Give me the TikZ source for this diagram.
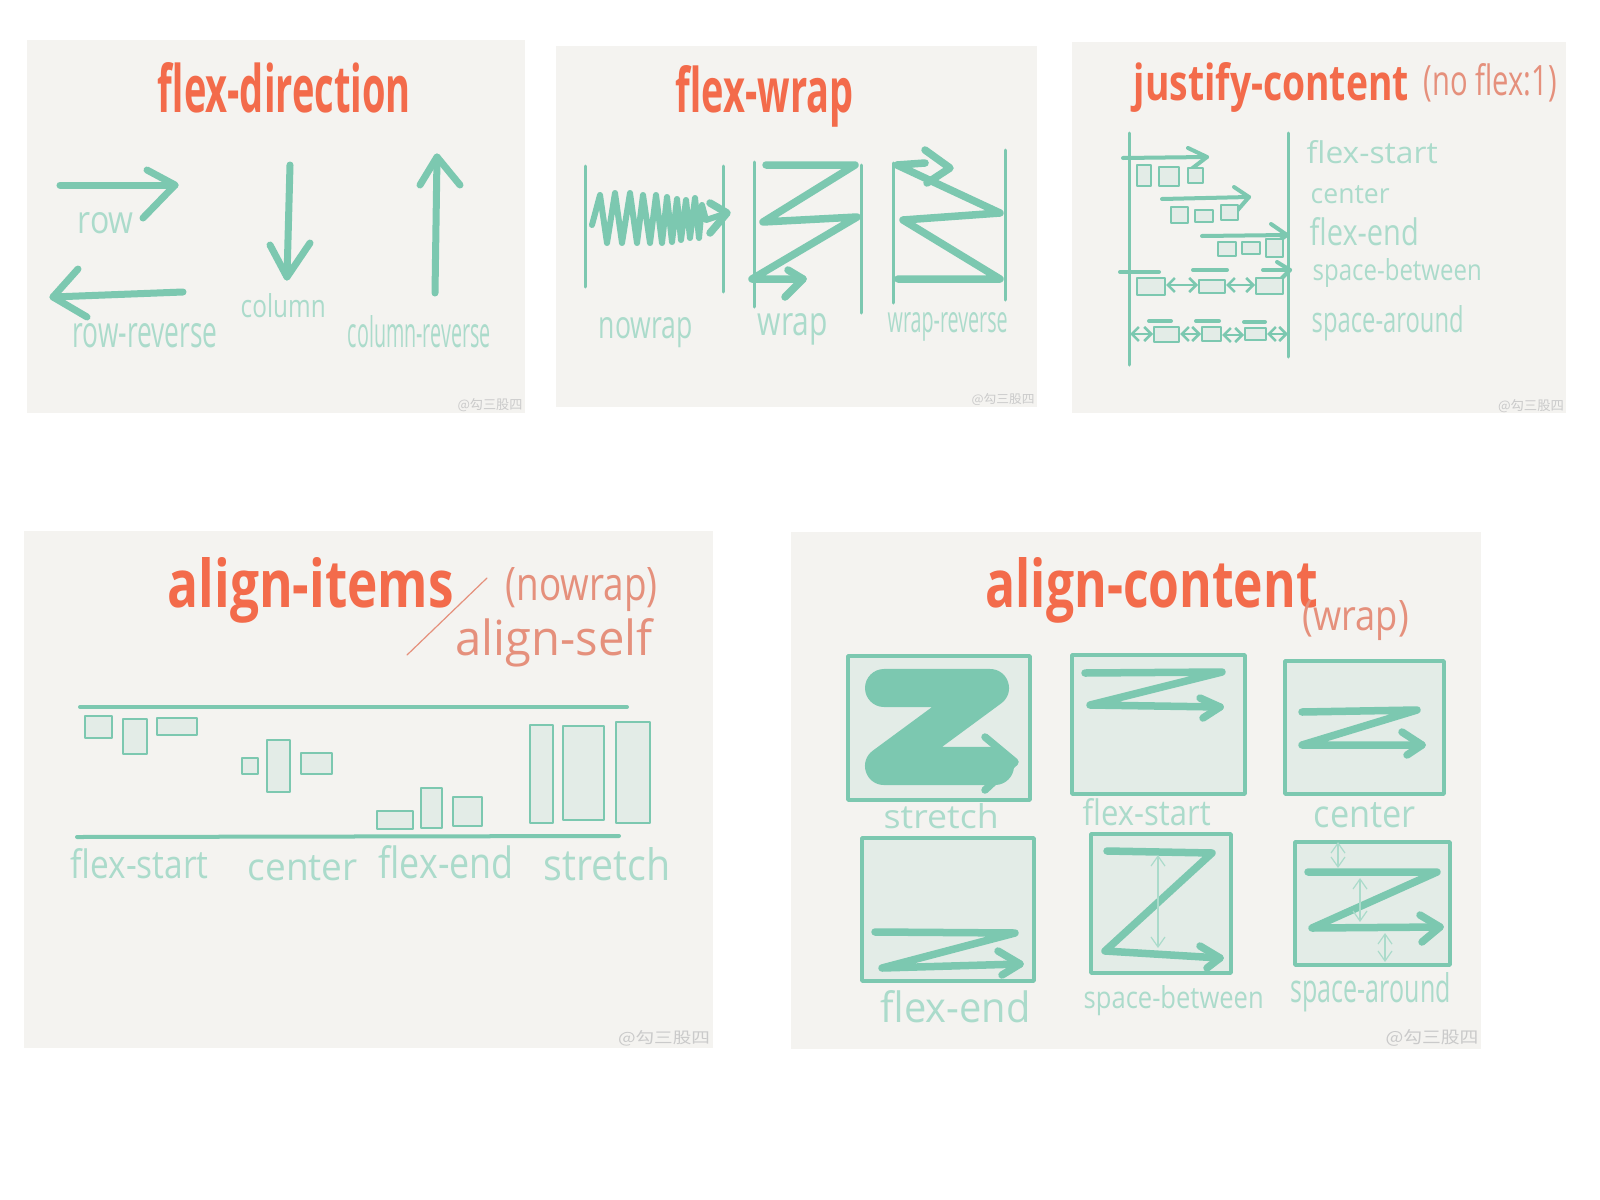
\documentclass[tikz,border=0pt]{standalone}
\usepackage{fontspec}
\setmainfont{Open Sans}
\newfontfamily\cjk{Noto Sans CJK SC}
\usepackage{graphicx}
\usetikzlibrary{arrows.meta}
\newlength\pxu \setlength\pxu{0.01cm}
\newcommand\hw[3]{\resizebox{#1\pxu}{#2\pxu}{#3}}
\definecolor{bgpanel}{HTML}{F4F3F0}
\definecolor{fgteal}{HTML}{7CC8B0}
\definecolor{txteal}{HTML}{ABDBCB}
\definecolor{fgorange}{HTML}{F36B4B}
\definecolor{ltorange}{HTML}{E5907C}
\definecolor{boxfill}{HTML}{E3ECE7}
\definecolor{wmark}{HTML}{CACACA}
\tikzset{
  pnl/.style={fill=bgpanel},
  thickarrow/.style={draw=fgteal, line width=0.07cm},
  zz/.style={draw=fgteal, line width=0.075cm},
  thinline/.style={draw=fgteal, line width=0.03cm},
  jarrow/.style={draw=fgteal, line width=0.04cm},
  itembox/.style={draw=fgteal, fill=boxfill, line width=0.028cm},
  acbox/.style={draw=fgteal, fill=boxfill, line width=0.035cm},
  dblarr/.style={draw=fgteal, line width=0.025cm, {Straight Barb[length=0.07cm,width=0.14cm]}-{Straight Barb[length=0.07cm,width=0.14cm]}},
  thindbl/.style={draw=txteal, line width=0.012cm, {Straight Barb[length=0.1cm,width=0.14cm]}-{Straight Barb[length=0.1cm,width=0.14cm]}},
  slash/.style={draw=ltorange, line width=0.012cm},
  ttl/.style={text=fgorange, inner sep=0, anchor=base west, font=\bfseries},
  subttl/.style={text=ltorange, inner sep=0, anchor=base west},
  lbl/.style={text=txteal, inner sep=0, anchor=base west},
  wmk/.style={text=wmark, inner sep=0, font=\cjk},
}
\begin{document}
\begin{tikzpicture}[x=0.01cm,y=-0.01cm,line cap=round,line join=round]
\fill[white] (0,0) rectangle (1600,1200);
\useasboundingbox (0,0) rectangle (1600,1200);
% panels
\fill[pnl] (27,40) rectangle (525,413);
\fill[pnl] (556,46) rectangle (1037,407);
\fill[pnl] (1072,42) rectangle (1566,413);
\fill[pnl] (24,531) rectangle (713,1048);
\fill[pnl] (791,532) rectangle (1481,1049);

% ---------- flex-direction ----------
\node[ttl] (fdT) at (157,112) {\hw{253}{50}{flex-direction}};
\draw[thickarrow] (60,185) -- (175,185);
\draw[thickarrow] (147,170) -- (175,185) -- (143,218);
\node[lbl] (fdRow) at (77,233) {\hw{56}{21}{row}};
\draw[thickarrow] (183,292) -- (53,297);
\draw[thickarrow] (78,269) -- (53,297) -- (87,317);
\node[lbl] (fdRowR) at (72,347) {\hw{145}{24}{row-reverse}};
\draw[thickarrow] (290,165) -- (287,277);
\draw[thickarrow] (270,245) -- (287,277) -- (310,243);
\node[lbl] (fdCol) at (240,317) {\hw{85}{24}{column}};
\draw[thickarrow] (435,293) -- (437,157);
\draw[thickarrow] (420,185) -- (437,157) -- (460,185);
\node[lbl] (fdColR) at (347,347) {\hw{143}{32}{column-reverse}};
\node[wmk] (fdW) at (490,405) {\hw{65}{11}{@勾三股四}};

% ---------- flex-wrap ----------
\node[ttl] (fwT) at (675,112) {\hw{178}{47}{flex-wrap}};
\draw[thinline] (585,166) -- (585,287);
\draw[thinline] (723,166) -- (723,292);
\draw[thinline] (754,162) -- (754,307);
\draw[thinline] (861,165) -- (861,313);
\draw[thinline] (893,163) -- (893,303);
\draw[thinline] (1005,150) -- (1005,300);
\draw[draw=fgteal, line width=0.06cm] (592,225) -- (600,195) -- (607,243) -- (615,193) -- (622,243) -- (630,193)
  -- (637,243) -- (643,195) -- (650,243) -- (656,195) -- (662,243) -- (667,197)
  -- (672,242) -- (677,199) -- (681,240) -- (686,200) -- (690,238) -- (695,198)
  -- (699,238) -- (702,205) -- (706,220) -- (727,213);
\draw[zz] (710,203) -- (727,213) -- (710,233);
\draw[zz] (766,165) -- (855,165) -- (763,222) -- (857,217) -- (752,279) -- (803,279);
\draw[zz] (788,270) -- (803,279) -- (785,297);
\draw[zz] (898,279) -- (1000,279) -- (903,220) -- (1000,213) -- (897,165) -- (925,163);
\draw[zz] (925,150) -- (950,168) -- (927,183);
\node[lbl] (fwN) at (598,338) {\hw{94}{21}{nowrap}};
\node[lbl] (fwW) at (757,335) {\hw{70}{22}{wrap}};
\node[lbl] (fwR) at (887,332) {\hw{120}{20}{wrap-reverse}};
\node[wmk] (fwWm) at (1003,400) {\hw{63}{10}{@勾三股四}};

% ---------- justify-content ----------
\node[ttl] (jcT) at (1133,100) {\hw{275}{38}{justify-content}};
\node[subttl] (jcS) at (1423,95) {\hw{133}{32}{(no flex:1)}};
\draw[thinline] (1129,133) -- (1129,365);
\draw[thinline] (1288,133) -- (1288,357);
% row 1
\draw[jarrow] (1123,158) -- (1207,157);
\draw[jarrow] (1188,148) -- (1207,157) -- (1190,170);
\draw[itembox] (1137,165) rectangle (1151,186);
\draw[itembox] (1159,167) rectangle (1179,186);
\draw[itembox] (1188,168) rectangle (1203,183);
% row 2
\draw[jarrow] (1162,199) -- (1249,197);
\draw[jarrow] (1234,187) -- (1249,197) -- (1236,212);
\draw[itembox] (1171,207) rectangle (1188,223);
\draw[itembox] (1195,210) rectangle (1213,222);
\draw[itembox] (1221,205) rectangle (1238,220);
% row 3
\draw[jarrow] (1202,236) -- (1287,235);
\draw[jarrow] (1271,224) -- (1287,235) -- (1273,245);
\draw[itembox] (1218,242) rectangle (1236,256);
\draw[itembox] (1242,242) rectangle (1260,254);
\draw[itembox] (1266,239) rectangle (1283,257);
% row 4
\draw[jarrow] (1120,272) -- (1159,272);
\draw[jarrow] (1193,270) -- (1227,270);
\draw[jarrow] (1263,270) -- (1290,270);
\draw[jarrow] (1277,262) -- (1290,270) -- (1277,283);
\draw[itembox] (1137,278) rectangle (1165,295);
\draw[itembox] (1199,280) rectangle (1225,293);
\draw[itembox] (1256,278) rectangle (1283,294);
\draw[dblarr] (1166,285) -- (1198,285);
\draw[dblarr] (1226,285) -- (1255,285);
% row 5
\draw[jarrow] (1149,321) -- (1171,321);
\draw[jarrow] (1196,321) -- (1219,321);
\draw[jarrow] (1244,322) -- (1265,322);
\draw[itembox] (1154,327) rectangle (1179,342);
\draw[itembox] (1202,327) rectangle (1221,341);
\draw[itembox] (1245,328) rectangle (1266,340);
\draw[dblarr] (1130,334) -- (1153,334);
\draw[dblarr] (1180,334) -- (1201,334);
\draw[dblarr] (1222,335) -- (1244,335);
\draw[dblarr] (1267,334) -- (1288,334);
\node[lbl] (jcL1) at (1306,163) {\hw{131}{23}{flex-start}};
\node[lbl] (jcL2) at (1310,203) {\hw{79}{18}{center}};
\node[lbl] (jcL3) at (1309,245) {\hw{109}{28}{flex-end}};
\node[lbl] (jcL4) at (1312,280) {\hw{169}{22}{space-between}};
\node[lbl] (jcL5) at (1311,332) {\hw{152}{27}{space-around}};
\node[wmk] (jcW) at (1531,406) {\hw{66}{11}{@勾三股四}};

% ---------- align-items ----------
\node[ttl] (aiT) at (167,607) {\hw{286}{50}{align-items}};
\draw[slash] (407,655) -- (487,578);
\node[subttl] (aiS1) at (505,600) {\hw{152}{33}{(nowrap)}};
\node[subttl] (aiS2) at (455,655) {\hw{197}{37}{align-self}};
\draw[draw=fgteal, line width=0.04cm] (80,707) -- (627,707);
\draw[draw=fgteal, line width=0.04cm] (77,837) -- (619,836);
\draw[itembox] (85,716) rectangle (112,738);
\draw[itembox] (123,719) rectangle (147,754);
\draw[itembox] (157,718) rectangle (197,735);
\draw[itembox] (242,758) rectangle (258,774);
\draw[itembox] (267,740) rectangle (290,792);
\draw[itembox] (301,753) rectangle (332,774);
\draw[itembox] (377,811) rectangle (413,829);
\draw[itembox] (421,788) rectangle (442,828);
\draw[itembox] (453,797) rectangle (482,826);
\draw[itembox] (530,725) rectangle (553,823);
\draw[itembox] (563,726) rectangle (604,820);
\draw[itembox] (616,722) rectangle (650,823);
\node[lbl] (aiL1) at (70,878) {\hw{138}{30}{flex-start}};
\node[lbl] (aiL2) at (247,880) {\hw{110}{25}{center}};
\node[lbl] (aiL3) at (378,878) {\hw{135}{33}{flex-end}};
\node[lbl] (aiL4) at (543,880) {\hw{127}{33}{stretch}};
\node[wmk] (aiW) at (664,1038) {\hw{92}{13}{@勾三股四}};

% ---------- align-content ----------
\node[ttl] (acT) at (985,607) {\hw{332}{50}{align-content}};
\node[subttl] (acS) at (1302,630) {\hw{106}{30}{(wrap)}};
\draw[acbox] (848,656) rectangle (1030,800);
\draw[acbox] (1072,655) rectangle (1245,794);
\draw[acbox] (1285,661) rectangle (1444,794);
\draw[acbox] (862,838) rectangle (1034,981);
\draw[acbox] (1091,834) rectangle (1231,973);
\draw[acbox] (1295,842) rectangle (1450,965);
% stretch
\draw[draw=fgteal, line width=0.38cm] (884,688) -- (990,688) -- (884,766) -- (995,766);
\draw[zz] (985,737) -- (1015,762) -- (985,790);
% flex-start
\draw[zz] (1085,673) -- (1222,672) -- (1090,705) -- (1220,707);
\draw[zz] (1200,698) -- (1220,707) -- (1203,718);
% center
\draw[zz] (1302,712) -- (1417,710) -- (1302,745) -- (1422,745);
\draw[zz] (1402,732) -- (1422,745) -- (1407,755);
% flex-end
\draw[zz] (875,932) -- (1015,933) -- (882,968) -- (1020,964);
\draw[zz] (998,951) -- (1020,964) -- (1002,975);
% space-between
\draw[zz] (1107,851) -- (1212,853) -- (1105,951) -- (1220,958);
\draw[zz] (1200,946) -- (1220,958) -- (1207,968);
\draw[thindbl] (1158,855) -- (1158,948);
% space-around
\draw[zz] (1308,872) -- (1437,872) -- (1312,928) -- (1440,927);
\draw[zz] (1420,915) -- (1440,927) -- (1422,942);
\draw[thindbl] (1338,842) -- (1338,868);
\draw[thindbl] (1360,878) -- (1360,922);
\draw[thindbl] (1385,933) -- (1385,962);
\node[lbl] (acL1) at (883,828) {\hw{115}{25}{stretch}};
\node[lbl] (acL2) at (1082,825) {\hw{128}{27}{flex-start}};
\node[lbl] (acL3) at (1313,827) {\hw{102}{25}{center}};
\node[lbl] (acL4) at (880,1022) {\hw{150}{32}{flex-end}};
\node[lbl] (acL5) at (1083,1008) {\hw{180}{23}{space-between}};
\node[lbl] (acL6) at (1290,1002) {\hw{160}{30}{space-around}};
\node[wmk] (acW) at (1432,1038) {\hw{93}{14}{@勾三股四}};
\end{tikzpicture}
\end{document}
